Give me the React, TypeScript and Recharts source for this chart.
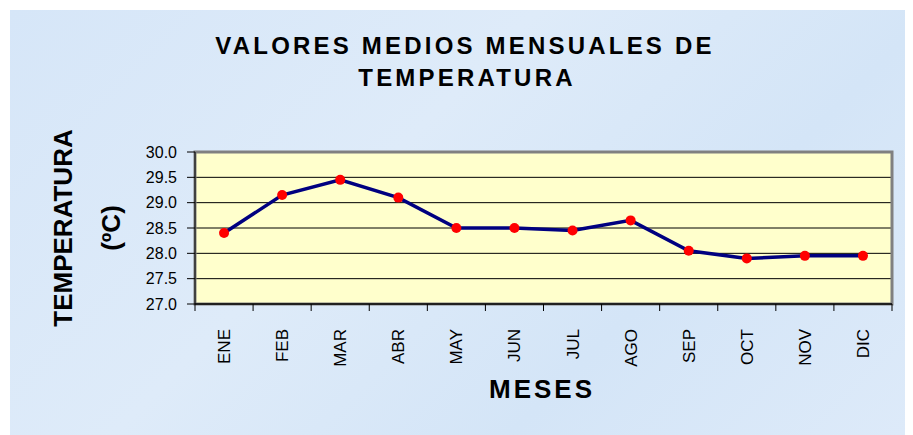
import React from 'react'
import { CartesianGrid, Line, LineChart, ReferenceArea, XAxis, YAxis } from 'recharts'

const months = ['ENE', 'FEB', 'MAR', 'ABR', 'MAY', 'JUN', 'JUL', 'AGO', 'SEP', 'OCT', 'NOV', 'DIC']
const temperatures = [28.4, 29.15, 29.45, 29.1, 28.5, 28.5, 28.45, 28.65, 28.05, 27.9, 27.95, 27.95]
const yTicks = [27.0, 27.5, 28.0, 28.5, 29.0, 29.5, 30.0]
const boundaryTicks = [0, 1, 2, 3, 4, 5, 6, 7, 8, 9, 10, 11, 12]

const FONT = 'Arial, "Liberation Sans", Helvetica, sans-serif'

const data = months.map((month, i) => ({ month, temp: temperatures[i], slot: i + 0.5 }))

function MonthTick(props: { x?: number; y?: number; payload?: { value?: string } }) {
  const x = (props.x ?? 0) + 6
  const y = (props.y ?? 0) + 16
  return (
    <text
      x={x}
      y={y}
      transform={`rotate(-90, ${x}, ${y})`}
      textAnchor="end"
      fill="#000"
      fontFamily={FONT}
      fontSize={17}
    >
      {props.payload?.value}
    </text>
  )
}

export default function App() {
  return (
    <div style={{ position: 'absolute', left: 0, top: 0, width: 913, height: 435, background: '#fff', overflow: 'hidden' }}>
      <div
        style={{
          position: 'absolute',
          left: 10,
          top: 10,
          width: 895,
          height: 425,
          background: 'linear-gradient(135deg, #d6e6f8 0%, #deebf9 40%, #d4e5f7 70%, #ddeaf9 100%)'
        }}
      />
      <div style={{ position: 'absolute', left: 0, top: 0 }}>
        <LineChart width={913} height={435} data={data} margin={{ top: 152, right: 21, bottom: 71, left: 135 }}>
          <CartesianGrid vertical={false} horizontal stroke="#000" strokeOpacity={1} fill="#FFFFCC" fillOpacity={1} />
          <XAxis
            xAxisId="bounds"
            type="number"
            dataKey="slot"
            domain={[0, 12]}
            ticks={boundaryTicks}
            interval={0}
            height={1}
            tickSize={7}
            tick={() => <g />}
            tickLine={{ stroke: '#000' }}
            axisLine={{ stroke: '#000', strokeWidth: 1.5 }}
          />
          <XAxis
            xAxisId="cat"
            dataKey="month"
            scale="band"
            height={59}
            axisLine={false}
            tickLine={false}
            interval={0}
            tick={<MonthTick />}
          />
          <YAxis
            domain={[27, 30]}
            ticks={yTicks}
            width={60}
            tickSize={8}
            tickMargin={10}
            interval={0}
            tickFormatter={(v: number) => v.toFixed(1)}
            tick={{ fill: '#000', fontSize: 16, fontFamily: FONT }}
            stroke="#000"
          />
          <ReferenceArea
            xAxisId="bounds"
            x1={0}
            x2={12}
            y1={27}
            y2={30}
            fill="none"
            stroke="#808080"
            strokeWidth={3}
            ifOverflow="visible"
          />
          <Line
            xAxisId="cat"
            dataKey="temp"
            stroke="#000080"
            strokeWidth={3.5}
            dot={{ r: 5, fill: '#FF0000', stroke: '#FF0000', strokeWidth: 0 }}
            isAnimationActive={false}
          />
        </LineChart>
      </div>
      <svg width={913} height={435} style={{ position: 'absolute', left: 0, top: 0, pointerEvents: 'none' }}>
        <g fontFamily={FONT} fontWeight="bold" fill="#000">
          <text x={465} y={54} textAnchor="middle" fontSize={24} letterSpacing={3.2}>
            VALORES MEDIOS MENSUALES DE
          </text>
          <text x={467} y={86} textAnchor="middle" fontSize={24} letterSpacing={3.2}>
            TEMPERATURA
          </text>
          <text x={72} y={228} textAnchor="middle" fontSize={26} transform="rotate(-90, 72, 228)">
            TEMPERATURA
          </text>
          <text x={120} y={228} textAnchor="middle" fontSize={26} transform="rotate(-90, 120, 228)">
            (ºC)
          </text>
          <text x={542} y={398} textAnchor="middle" fontSize={26} letterSpacing={3}>
            MESES
          </text>
        </g>
      </svg>
    </div>
  )
}
